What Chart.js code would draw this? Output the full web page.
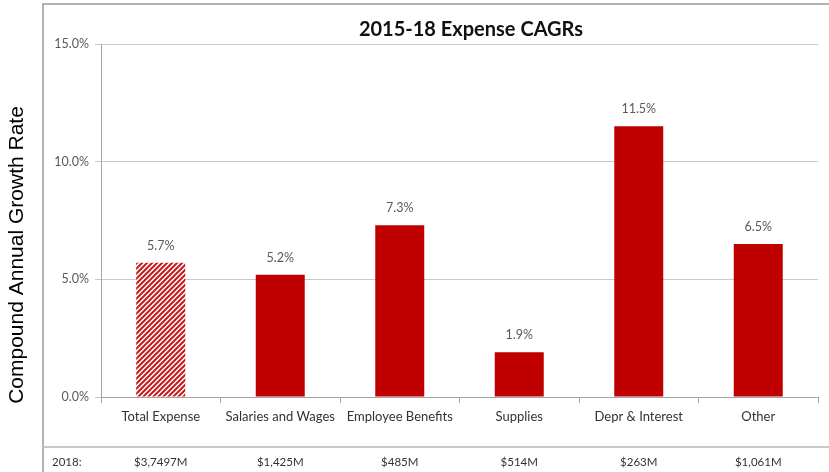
<!DOCTYPE html>
<html>
<head>
<meta charset="utf-8">
<script src="https://cdn.jsdelivr.net/npm/chart.js@4.4.0/dist/chart.umd.min.js"></script>
<style>
  html, body { margin: 0; padding: 0; background: #fff; }
</style>
</head>
<body>
<canvas id="cagr" width="829" height="472"></canvas>
<script>
const categories = ["Total Expense", "Salaries and Wages", "Employee Benefits", "Supplies", "Depr & Interest", "Other"];
const cagrValues = [5.7, 5.2, 7.3, 1.9, 11.5, 6.5];
const spend2018 = ["$3,7497M", "$1,425M", "$485M", "$514M", "$263M", "$1,061M"];
const yTickValues = [0, 5, 10, 15];

const RED = "#c00000";
Chart.defaults.font.family = "Lato, 'Open Sans', sans-serif";

// diagonal red stripes for the total bar
function stripes() {
  const s = 5;
  const tile = document.createElement("canvas");
  tile.width = s; tile.height = s;
  const g = tile.getContext("2d");
  g.fillStyle = "#fff";
  g.fillRect(0, 0, s, s);
  g.strokeStyle = "#c81a1a";
  g.lineWidth = 2;
  g.beginPath();
  g.moveTo(-1, s + 1); g.lineTo(s + 1, -1);
  g.moveTo(-1, 1); g.lineTo(1, -1);
  g.moveTo(s - 1, s + 1); g.lineTo(s + 1, s - 1);
  g.stroke();
  return document.getElementById("cagr").getContext("2d").createPattern(tile, "repeat");
}

const barColors = cagrValues.map((v, i) => i === 0 ? stripes() : RED);

const extras = {
  id: "extras",
  afterDraw(chart) {
    const ctx = chart.ctx;
    const x = chart.scales.x;
    ctx.save();

    // frame
    ctx.strokeStyle = "#9a9a9a";
    ctx.lineWidth = 1.5;
    ctx.beginPath();
    ctx.moveTo(829, 4); ctx.lineTo(43, 4); ctx.lineTo(43, 472);
    ctx.stroke();
    ctx.strokeStyle = "#c8c8c8";
    ctx.lineWidth = 2;
    ctx.beginPath();
    ctx.moveTo(43, 447); ctx.lineTo(829, 447);
    ctx.stroke();

    // title
    ctx.fillStyle = "#111";
    ctx.font = "bold 20px Lato, sans-serif";
    ctx.textAlign = "center";
    ctx.textBaseline = "middle";
    ctx.fillText("2015-18 Expense CAGRs", 471, 30);

    // value labels
    ctx.fillStyle = "#595959";
    ctx.font = "12.5px Lato, sans-serif";
    chart.getDatasetMeta(0).data.forEach((bar, i) => {
      ctx.fillText(cagrValues[i].toFixed(1) + "%", bar.x, bar.y - 17);
    });

    // 2018 spend row
    ctx.fillStyle = "#333";
    ctx.font = "11.5px Lato, sans-serif";
    ctx.textAlign = "left";
    ctx.fillText("2018:", 52, 462);
    ctx.textAlign = "center";
    spend2018.forEach((t, i) => ctx.fillText(t, x.getPixelForValue(i), 462));

    // y axis title
    ctx.translate(17, 255);
    ctx.rotate(-Math.PI / 2);
    ctx.fillStyle = "#000";
    ctx.font = "21px 'Liberation Sans', Arial, sans-serif";
    ctx.fillText("Compound Annual Growth Rate", 0, 0);
    ctx.restore();
  }
};

new Chart(document.getElementById("cagr"), {
  type: "bar",
  data: {
    labels: categories,
    datasets: [{
      data: cagrValues,
      backgroundColor: barColors,
      borderWidth: 0,
      categoryPercentage: 1,
      barPercentage: 0.41
    }]
  },
  options: {
    responsive: false,
    animation: false,
    layout: { padding: { left: 43, top: 44, right: 11, bottom: 0 } },
    plugins: { legend: { display: false }, tooltip: { enabled: false } },
    scales: {
      x: {
        afterFit: s => { s.height = 75; },
        grid: { drawOnChartArea: false, offset: true, tickLength: 6, color: "#a6a6a6" },
        border: { color: "#a6a6a6" },
        ticks: { color: "#333", font: { size: 13 }, padding: 6 }
      },
      y: {
        min: 0,
        max: 15,
        afterFit: s => { s.width = 58; },
        afterBuildTicks: s => { s.ticks = yTickValues.map(v => ({ value: v })); },
        grid: { color: "#c8c8c8", tickLength: 6 },
        border: { color: "#a6a6a6" },
        ticks: { color: "#595959", font: { size: 12.5 }, padding: 6, callback: v => v.toFixed(1) + "%" }
      }
    }
  },
  plugins: [extras]
});
</script>
</body>
</html>
